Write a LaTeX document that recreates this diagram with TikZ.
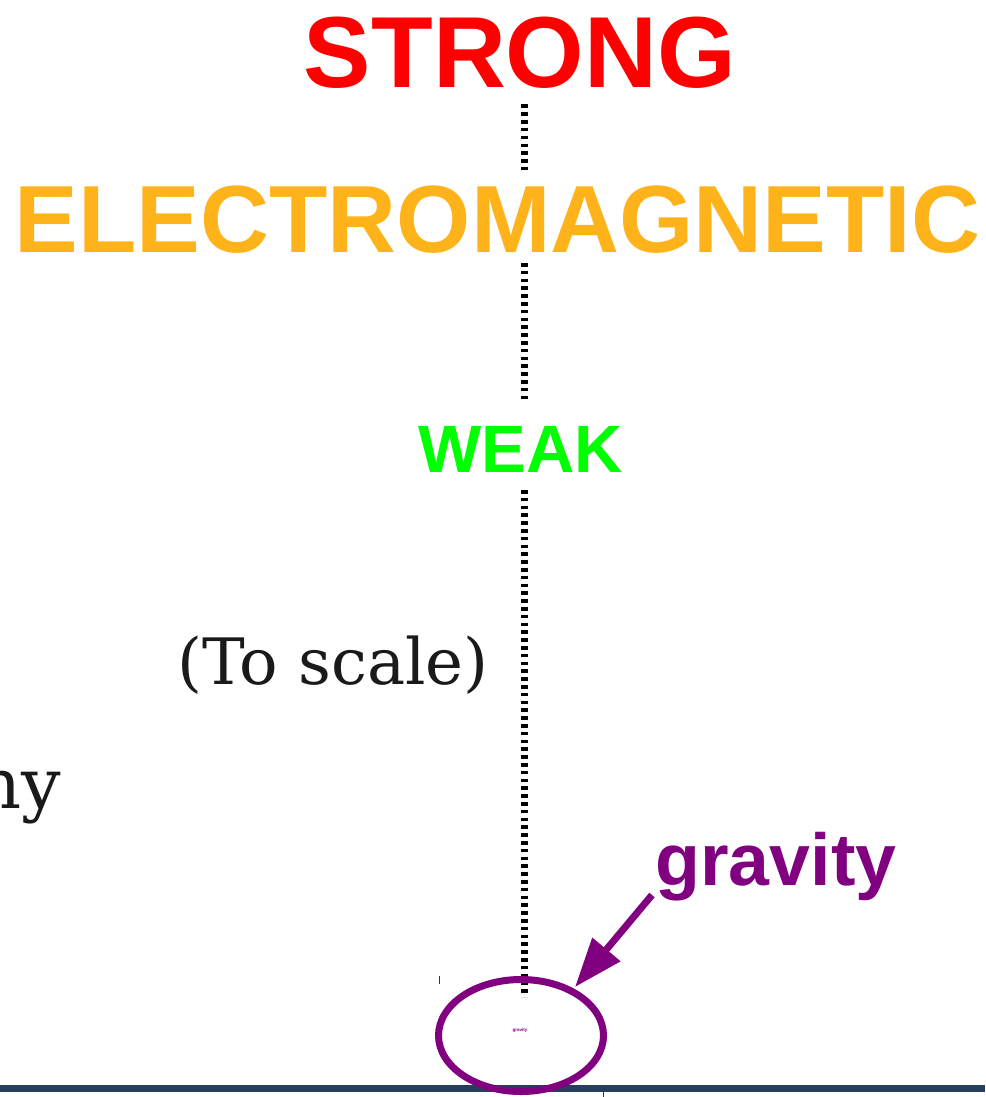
\documentclass[tikz,border=0pt]{standalone}
\usepackage{fontspec}
\setmainfont{DejaVu Serif}
\newfontfamily\sansf{Liberation Sans}
\usetikzlibrary{arrows.meta,shapes.geometric}
\definecolor{cstrong}{HTML}{FF0000}
\definecolor{cem}{HTML}{FFB31A}
\definecolor{cweak}{HTML}{00FF00}
\definecolor{cgrav}{HTML}{800080}
\definecolor{cbar}{HTML}{263E5E}
\definecolor{ctext}{HTML}{1A1A1A}
\begin{document}
\begin{tikzpicture}[x=1pt,y=-1pt,
  force/.style={anchor=base,inner sep=0pt,font=\sansf\bfseries},
  serif/.style={anchor=base,inner sep=0pt,text=ctext},
  dotline/.style={draw=black,line width=7.6pt,dash pattern=on 3.5pt off 4.3pt},
  gravarrow/.style={draw=cgrav,line width=7pt,-{Triangle[length=49pt,width=35pt]}},
  tick/.style={draw=cgrav,line width=1pt}]
\useasboundingbox (0,0) rectangle (985,1097);
% bar
\draw[cbar,line width=7pt] (0,1088.7) coordinate (barL) -- (985,1088.7) coordinate (barR);
% texts
\node[force,text=cstrong,font=\sansf\bfseries\fontsize{101}{110}\selectfont] (strong) at (520,88) {STRONG};
\node[force,text=cem,font=\sansf\bfseries\fontsize{95.5}{110}\selectfont] (em) at (497.5,252) {ELECTROMAGNETIC};
\node[force,text=cweak,font=\sansf\bfseries\fontsize{67}{80}\selectfont] (weak) at (521,472) {WEAK};
\node[force,text=cgrav,font=\sansf\bfseries\fontsize{73.5}{80}\selectfont] (grav) at (776,885) {gravity};
\node[serif,font=\fontsize{64}{70}\selectfont] (scale) at (333,684) {(To scale)};
\node[serif,anchor=base east,font=\fontsize{70}{80}\selectfont] (ny) at (61,808) {ny};
% dotted connectors
\coordinate (d1a) at (524.5,104.5);
\coordinate (d1b) at (524.5,172);
\coordinate (d2a) at (524.5,263);
\coordinate (d2b) at (524.5,401);
\coordinate (d3a) at (524.5,490);
\coordinate (d3b) at (524.5,997);
\draw[dotline] (d1a) -- (d1b);
\draw[dotline] (d2a) -- (d2b);
\draw[dotline] (d3a) -- (d3b);
% ellipse
\node[ellipse,draw=cgrav,line width=7pt,minimum width=165pt,minimum height=112pt,inner sep=0pt] (ell) at (521,1035.5) {};
\node[inner sep=0pt,text=cgrav,font=\sansf\bfseries\fontsize{4.5}{5}\selectfont] (tiny) at (520,1030) {gravity};
% arrow
\coordinate (arrS) at (652,895);
\coordinate (arrT) at (575,987);
\draw[gravarrow] (arrS) -- (arrT);
% ticks
\draw[tick] (439,976) coordinate (t1a) -- (439,984) coordinate (t1b);
\draw[tick] (603,1092) coordinate (t2a) -- (603,1097) coordinate (t2b);
\end{tikzpicture}
\end{document}
